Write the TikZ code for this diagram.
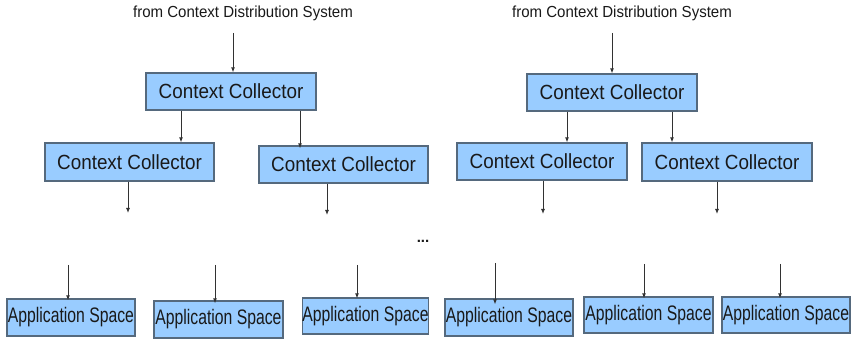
\documentclass[tikz,border=0pt]{standalone}
\usepackage{fontspec}
\usepackage{graphicx}
\setmainfont{Liberation Sans}
\usetikzlibrary{arrows.meta}
\definecolor{boxfill}{RGB}{153,204,255}
\definecolor{boxline}{RGB}{85,105,125}
\definecolor{arrline}{RGB}{50,50,50}
\definecolor{txt}{RGB}{25,25,25}
\tikzset{
  ccbox/.style={draw=boxline, fill=boxfill, line width=1.3pt, inner sep=0pt, text=txt,
    minimum width=170pt, minimum height=37pt, font=\fontsize{20.5}{22}\selectfont},
  appbox/.style={draw=boxline, fill=boxfill, line width=1.3pt, inner sep=0pt, text=txt,
    minimum width=128pt, minimum height=37pt, font=\fontsize{21}{22}\selectfont},
  toplabel/.style={text=txt, inner sep=0pt, font=\fontsize{16}{18}\selectfont},
  arr/.style={draw=arrline, line width=0.9pt, -{Latex[length=5pt,width=4pt]}}
}
\newcommand{\cctext}{\scalebox{0.92}[1]{Context Collector}}
\newcommand{\apptext}{\scalebox{0.75}[1]{Application Space}}
\begin{document}
\begin{tikzpicture}[x=1pt,y=-1pt]
\useasboundingbox (0,0) rectangle (852,339);
% top labels
\node[toplabel] (t1) at (243,13) {\scalebox{0.94}[1]{from Context Distribution System}};
\node[toplabel] (t2) at (622,13) {\scalebox{0.94}[1]{from Context Distribution System}};
% context collectors
\node[ccbox] (c1) at (231,91.5) {\cctext};
\node[ccbox] (c2) at (612,92.5) {\cctext};
\node[ccbox, minimum width=169pt, minimum height=38pt] (c11) at (129.5,162) {\cctext};
\node[ccbox, minimum width=169pt] (c12) at (343.5,164.5) {\cctext};
\node[ccbox] (c21) at (542,161.5) {\cctext};
\node[ccbox, minimum height=38pt] (c22) at (727,162) {\cctext};
% application spaces
\node[appbox] (a1) at (71,317.5) {\apptext};
\node[appbox, minimum width=129pt] (a2) at (218.5,319.5) {\apptext};
\node[appbox, minimum width=125pt, minimum height=36pt] (a3) at (365.5,316) {\apptext};
\node[appbox] (a4) at (509,317.5) {\apptext};
\node[appbox, minimum width=129pt, minimum height=36pt] (a5) at (648.5,315) {\apptext};
\node[appbox, minimum width=128pt, minimum height=36pt] (a6) at (786,315) {\apptext};
% dots
\node[toplabel, font=\fontsize{15}{16}\selectfont\bfseries] (dots) at (423,241) {...};
% free ends
\coordinate (s1) at (233,33);
\coordinate (s2) at (612,33);
\coordinate (e11) at (128,213);
\coordinate (e12) at (327,215);
\coordinate (e21) at (543,214);
\coordinate (e22) at (717,214);
\coordinate (b1) at (68,265);
\coordinate (b2) at (215,265);
\coordinate (b3) at (357,265);
\coordinate (b4) at (495,263);
\coordinate (b5) at (644,264);
\coordinate (b6) at (780,264);
% arrows
\draw[arr] (s1) -- ([xshift=2pt]c1.north);
\draw[arr] (s2) -- (c2.north);
\draw[arr] ([xshift=-50pt]c1.south) -- ([xshift=51.5pt]c11.north);
\draw[arr] ([xshift=69pt]c1.south) -- ([xshift=-43.5pt,yshift=-3pt]c12.north);
\draw[arr] ([xshift=-45pt]c2.south) -- ([xshift=25pt]c21.north);
\draw[arr] ([xshift=60pt]c2.south) -- ([xshift=-55pt]c22.north);
\draw[arr] ([xshift=-1.5pt]c11.south) -- (e11);
\draw[arr] ([xshift=-16.5pt]c12.south) -- (e12);
\draw[arr] ([xshift=1pt]c21.south) -- (e21);
\draw[arr] ([xshift=-10pt]c22.south) -- (e22);
\draw[arr] (b1) -- ([xshift=-3pt,yshift=-2pt]a1.north);
\draw[arr] (b2) -- ([xshift=-3.5pt,yshift=-3pt]a2.north);
\draw[arr] (b3) -- ([xshift=-8.5pt,yshift=-1pt]a3.north);
\draw[arr] (b4) -- ([xshift=-14pt,yshift=-6pt]a4.north);
\draw[arr] (b5) -- ([xshift=-4.5pt,yshift=-2pt]a5.north);
\draw[arr] (b6) -- ([xshift=-6pt,yshift=-2pt]a6.north);
\end{tikzpicture}
\end{document}
